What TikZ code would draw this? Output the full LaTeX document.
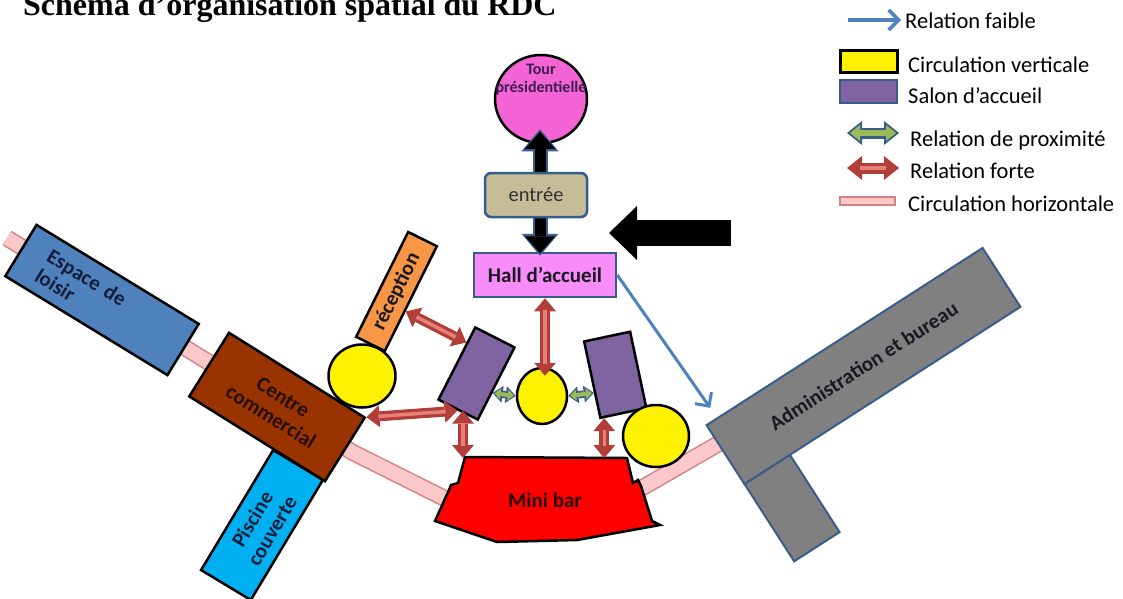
\documentclass[tikz,border=0pt]{standalone}
\usepackage{fontspec}
\setmainfont{Carlito}
\newfontfamily\titlefont{Liberation Serif}
\usetikzlibrary{arrows.meta,calc,shapes.geometric}
\definecolor{bordblue}{RGB}{56,93,138}
\definecolor{lblue}{RGB}{79,129,189}
\definecolor{loisirc}{RGB}{79,129,189}
\definecolor{brownc}{RGB}{153,51,0}
\definecolor{cyanp}{RGB}{0,176,240}
\definecolor{orangec}{RGB}{247,150,70}
\definecolor{purp}{RGB}{128,100,162}
\definecolor{tourpink}{RGB}{245,100,212}
\definecolor{hallpink}{RGB}{248,140,248}
\definecolor{entreec}{RGB}{196,189,151}
\definecolor{grayc}{RGB}{128,128,128}
\definecolor{rdark}{RGB}{178,62,58}
\definecolor{rlight}{RGB}{232,128,122}
\definecolor{gfill}{RGB}{155,187,89}
\definecolor{bandout}{RGB}{210,130,130}
\definecolor{bandin}{RGB}{250,200,200}
\definecolor{txt}{RGB}{25,25,35}
\definecolor{navytxt}{RGB}{20,30,60}
\definecolor{tourtxt}{RGB}{60,30,80}
\newcommand\bxfont{\fontsize{21}{23}\selectfont\bfseries}
\newcommand\lgfont{\fontsize{22.5}{26}\selectfont}
\tikzset{
  zone/.style={rectangle, draw=black, line width=2.5pt, inner sep=0pt, font=\bxfont, text=txt, align=center},
  ycirc/.style={ellipse, draw=black, line width=2.5pt, fill=yellow, inner sep=0pt},
  salon/.style={rectangle, draw=black, line width=2.5pt, fill=purp, inner sep=0pt},
  forte/.style={draw=rdark, line width=10pt,
    {Triangle[width=22pt,length=13pt,line width=0pt]}-{Triangle[width=22pt,length=13pt,line width=0pt]},
    postaction={draw=rlight, line width=3.5pt, -, shorten <=12pt, shorten >=12pt}},
  prox/.style={draw=bordblue, line width=7.5pt,
    {Triangle[width=17pt,length=10pt,line width=0pt]}-{Triangle[width=17pt,length=10pt,line width=0pt]},
    postaction={draw=gfill, line width=4pt,
      {Triangle[width=11pt,length=6pt,line width=0pt]}-{Triangle[width=11pt,length=6pt,line width=0pt]},
      shorten <=2pt, shorten >=2pt}},
  proxbig/.style={draw=bordblue, line width=11pt,
    {Triangle[width=24pt,length=15pt,line width=0pt]}-{Triangle[width=24pt,length=15pt,line width=0pt]},
    postaction={draw=gfill, line width=6pt,
      {Triangle[width=16pt,length=10pt,line width=0pt]}-{Triangle[width=16pt,length=10pt,line width=0pt]},
      shorten <=3pt, shorten >=3pt}},
  fortebig/.style={draw=rdark, line width=11pt,
    {Triangle[width=24pt,length=15pt,line width=0pt]}-{Triangle[width=24pt,length=15pt,line width=0pt]},
    postaction={draw=rlight, line width=4pt, -, shorten <=13pt, shorten >=13pt}},
  blackdbl/.style={draw=bordblue, line width=15pt,
    {Triangle[width=37pt,length=22pt,line width=0pt]}-{Triangle[width=37pt,length=22pt,line width=0pt]},
    postaction={draw=black, line width=11pt,
      {Triangle[width=30pt,length=17pt,line width=0pt]}-{Triangle[width=30pt,length=17pt,line width=0pt]},
      shorten <=2.5pt, shorten >=2.5pt}},
  faible/.style={draw=lblue, line width=3pt, -{Straight Barb[length=10pt,width=20pt]}},
  band/.style={draw=bandout, line width=17pt, line join=miter,
    postaction={draw=bandin, line width=14pt}},
  lgtext/.style={anchor=base west, font=\lgfont, text=black, inner sep=0pt}
}
\begin{document}
\begin{tikzpicture}[x=1pt,y=-1pt]
\useasboundingbox (0,0) rectangle (1123,598);
% title
\node[anchor=base west, inner sep=0pt, font=\titlefont\bfseries\fontsize{32}{36}\selectfont] (title) at (23,15) {Schéma d’organisation spatial du RDC};

% horizontal circulation
\draw[band] (7,238) -- (270,400) -- (352,452) -- (500,526);
\draw[band] (595,515) -- (730,437);

% left wing
\node[zone, fill=loisirc, text=navytxt, rotate=-31.4, minimum width=190pt, minimum height=60pt, text width=138pt, align=left] (loisir) at (102,300) {Espace de\\loisir};
\node[zone, fill=cyanp, text=navytxt, rotate=59, minimum width=140pt, minimum height=58pt] (piscine) at (262,525) {Piscine\\couverte};
\node[zone, fill=brownc, text={rgb,255:red,40;green,15;blue,5}, rotate=-32, minimum width=160pt, minimum height=75pt, font=\fontsize{21}{23}\selectfont\bfseries] (cc) at (277,407) {Centre\\commercial};
\node[zone, fill=orangec, rotate=63.6, minimum width=117pt, minimum height=32pt] (reception) at (396.5,291.5) {réception};
\node[ycirc, minimum width=67pt, minimum height=63pt] (ycL) at (362,376) {};

% centre
\node[salon, rotate=-27, minimum width=44pt, minimum height=81pt] (salonL) at (476.5,373.5) {};
\node[salon, rotate=12, minimum width=47pt, minimum height=78pt] (salonR) at (615.25,374.75) {};
\node[ycirc, minimum width=50pt, minimum height=56pt] (ycM) at (542,396) {};
\node[ycirc, minimum width=66pt, minimum height=62pt] (ycR) at (656,436) {};

% mini bar
\draw[line width=2.5pt, fill=red, line join=miter] (465,457) -- (627,458) -- (633,483) -- (638,480) -- (641,486) -- (652,521) -- (660,525) -- (577,540) -- (497,542) -- (435,521) -- (449,490) -- (451,485) -- (458,483) -- cycle;
\node[font=\bxfont, text={rgb,255:red,40;green,0;blue,0}] (minibar) at (545,500) {Mini bar};
\coordinate (mbtop) at (545,458);
\coordinate (mbL) at (463,458);

% top axis
\node[ellipse, draw=black, line width=2.5pt, fill=tourpink, minimum width=92pt, minimum height=88pt, inner sep=0pt] (tour) at (541,99) {};
\node[font=\fontsize{16}{18}\selectfont\bfseries, text=tourtxt, align=center] (tourlbl) at (541,80) {Tour\\présidentielle};
\node[rectangle, draw=bordblue, line width=2.5pt, fill=hallpink, minimum width=142pt, minimum height=44pt, inner sep=0pt, font=\bxfont, text=txt] (hall) at (545,275) {Hall d’accueil};
\draw[blackdbl] ($(tour.south)+(-1,-15)$) -- ($(tour.south |- hall.north)+(-1,4)$);
\node[rectangle, rounded corners=6pt, draw=bordblue, line width=2.5pt, fill=entreec, minimum width=102pt, minimum height=44pt, inner sep=0pt, font=\fontsize{20.5}{23}\selectfont, text={rgb,255:red,50;green,50;blue,50}] (entree) at (536,195) {entrée};

% big entrance arrow
\coordinate (bigS) at (731,233);
\coordinate (bigE) at (609,233);
\draw[line width=26pt, -{Triangle[width=54pt,length=28pt,line width=0pt]}] (bigS) -- (bigE);

% administration
\node[rectangle, draw=bordblue, line width=2pt, fill=grayc, rotate=32.7, minimum width=54pt, minimum height=92pt, inner sep=0pt] (adminleg) at (792,508) {};
\node[rectangle, draw=bordblue, line width=2pt, fill=grayc, rotate=32.7, minimum width=328pt, minimum height=70pt, inner sep=0pt, font=\bxfont, text=txt] (admin) at (863.5,366) {Administration et bureau};

% relations
\draw[forte] ($(reception.south)!0.23!(reception.south west)$) -- ($(salonL.west)!0.55!(salonL.north west)$);
\draw[forte] (cc.north east) -- (salonL.south);
\draw[forte] (salonL.south -| mbL) -- (mbL);
\draw[forte] (hall.south) -- ($(hall.south |- ycM.north)+(0,9)$);
\coordinate (sRb) at ($(salonR.south)!0.8!(salonR.south west)$);
\draw[forte] (sRb) -- (sRb |- mbtop);
\draw[prox] ($(salonL.east)!0.24!(salonL.south east)$) -- (ycM.west);
\draw[prox] (ycM.east) -- ($(salonR.west)!0.33!(salonR.south west)$);
\draw[faible] (hall.east) -- ($(admin.north west)+(5,-17)$);

% legend
\coordinate (lgA1) at (848,20);
\coordinate (lgA2) at (901,20);
\draw[faible, line width=3.5pt] (lgA1) -- (lgA2);
\node[lgtext] (lg1) at (905,28) {Relation faible};
\node[rectangle, draw=black, line width=3pt, fill=yellow, minimum width=57pt, minimum height=22pt, inner sep=0pt] (lgY) at (868.5,61) {};
\node[lgtext] (lg2) at (908,72) {Circulation verticale};
\node[rectangle, draw=bordblue, line width=2.5pt, fill=purp, minimum width=57pt, minimum height=23pt, inner sep=0pt] (lgS) at (868.5,91.5) {};
\node[lgtext] (lg3) at (908,103) {Salon d’accueil};
\coordinate (lgP1) at (847,133);
\coordinate (lgP2) at (899,133);
\draw[proxbig] (lgP1) -- (lgP2);
\node[lgtext] (lg4) at (910,146) {Relation de proximité};
\coordinate (lgF1) at (847,168);
\coordinate (lgF2) at (899,168);
\draw[fortebig] (lgF1) -- (lgF2);
\node[lgtext] (lg5) at (910,178) {Relation forte};
\node[rectangle, draw=bandout, line width=1.2pt, fill=bandin, minimum width=55pt, minimum height=8pt, inner sep=0pt] (lgB) at (867.5,201) {};
\node[lgtext] (lg6) at (908,211) {Circulation horizontale};
\end{tikzpicture}
\end{document}
